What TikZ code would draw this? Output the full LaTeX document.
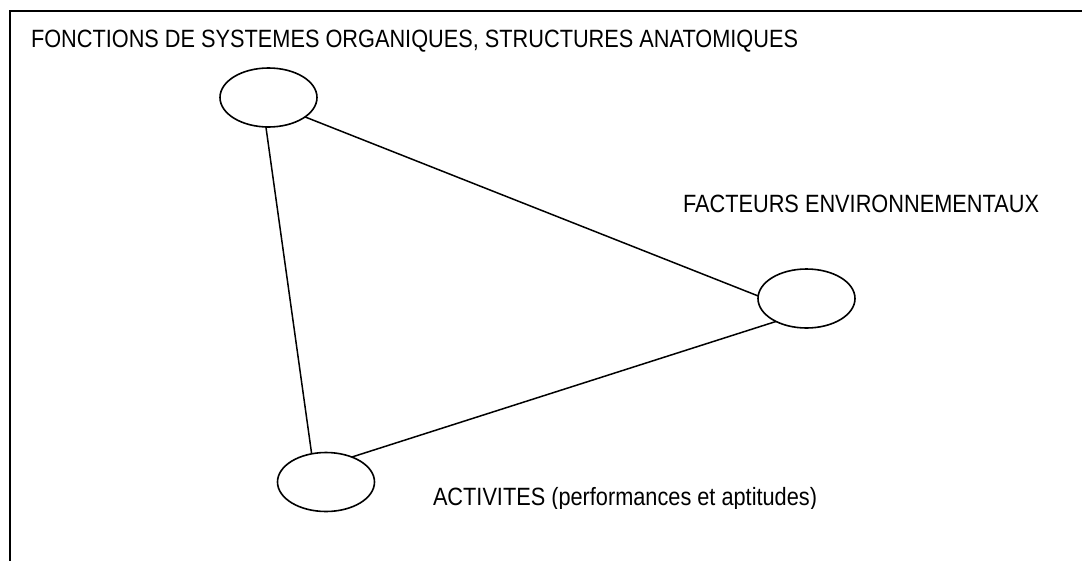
\documentclass[tikz,border=0pt]{standalone}
\usepackage{fontspec}
\setmainfont{Liberation Sans}
\usepackage{graphicx}
\usetikzlibrary{shapes.geometric}
\newcommand{\fitw}[2]{\resizebox{#1}{\height}{#2}}
\begin{document}
\begin{tikzpicture}[x=1pt,y=-1pt,
  bubble/.style={draw, ellipse, line width=1.6pt, minimum width=97pt, minimum height=59pt, inner sep=0pt, outer sep=0pt},
  label/.style={anchor=base west, inner sep=0pt, outer sep=0pt, font=\fontsize{25pt}{30pt}\selectfont},
  link/.style={line width=1.5pt}]
\useasboundingbox (0,0) rectangle (1082,560);
\clip (0,0) rectangle (1082,560);
\fill[white] (0,0) rectangle (1082,560);
\draw[line width=2pt] (9.5,11) rectangle (1100,580);
\node[bubble] (fon) at (268.5,97.5) {};
\node[bubble] (env) at (806.5,298.5) {};
\node[bubble] (act) at (326,482) {};
\draw[link] (fon.-95) -- (act.117);
\draw[link] (fon.-28) -- (env.177);
\draw[link] (env.-143) -- (act.44);
\node[label] (t1) at (31,47) {\fitw{767pt}{FONCTIONS DE SYSTEMES ORGANIQUES, STRUCTURES ANATOMIQUES}};
\node[label] (t2) at (683,212) {\fitw{356pt}{FACTEURS ENVIRONNEMENTAUX}};
\begin{scope}
\clip (420,470) rectangle (840,508);
\node[label] (t3) at (433,505) {\fitw{384pt}{ACTIVITES (performances et aptitudes)}};
\end{scope}
\end{tikzpicture}
\end{document}
